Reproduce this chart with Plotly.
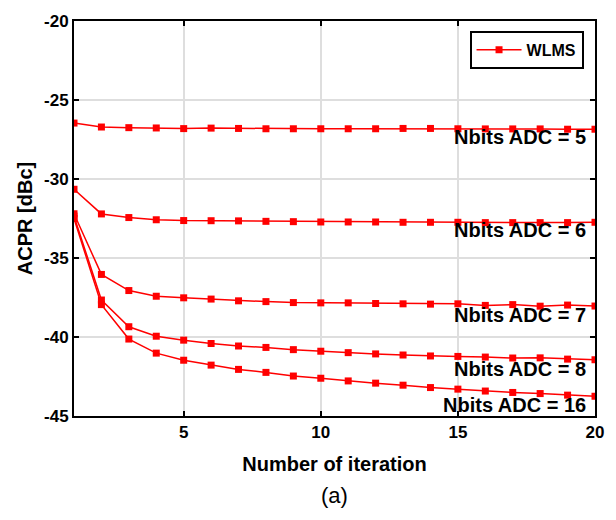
import plotly.graph_objects as go

iterations = list(range(1, 21))
acpr_5 = [-26.46, -26.71, -26.75, -26.77, -26.81, -26.78, -26.80, -26.82, -26.82, -26.82,
          -26.82, -26.82, -26.80, -26.80, -26.82, -26.83, -26.83, -26.83, -26.85, -26.85]
acpr_6 = [-30.65, -32.21, -32.44, -32.58, -32.63, -32.64, -32.65, -32.68, -32.70, -32.72,
          -32.72, -32.72, -32.74, -32.74, -32.74, -32.76, -32.76, -32.76, -32.76, -32.74]
acpr_7 = [-32.20, -36.04, -37.06, -37.42, -37.52, -37.60, -37.71, -37.76, -37.82, -37.84,
          -37.84, -37.88, -37.90, -37.92, -37.90, -38.00, -37.95, -38.05, -37.98, -38.04]
acpr_8 = [-32.35, -37.66, -39.35, -39.95, -40.20, -40.41, -40.57, -40.66, -40.80, -40.90,
          -40.99, -41.07, -41.14, -41.20, -41.23, -41.27, -41.33, -41.32, -41.40, -41.44]
acpr_16 = [-32.50, -37.95, -40.13, -41.02, -41.47, -41.78, -42.05, -42.24, -42.47, -42.61,
           -42.78, -42.92, -43.05, -43.20, -43.30, -43.42, -43.51, -43.58, -43.68, -43.75]
series = [acpr_5, acpr_6, acpr_7, acpr_8, acpr_16]
labels = ["Nbits ADC = 5", "Nbits ADC = 6", "Nbits ADC = 7", "Nbits ADC = 8", "Nbits ADC = 16"]
label_y = [-27.34, -33.20, -38.58, -42.01, -44.28]
x_ticks = [5, 10, 15, 20]
y_ticks = [-45, -40, -35, -30, -25, -20]

FONT = "Liberation Sans, Arial, sans-serif"
fig = go.Figure()
for i, s in enumerate(series):
    fig.add_trace(go.Scatter(
        x=iterations, y=s, mode="lines+markers", name="<b>WLMS</b>",
        showlegend=(i == 0),
        line=dict(color="#ff0000", width=1.5),
        marker=dict(symbol="square", size=7, color="#ff0000"),
    ))

for lab, ly in zip(labels, label_y):
    fig.add_annotation(x=20, y=ly, xref="x", yref="y", text="<b>%s</b>" % lab,
                       showarrow=False, xanchor="right", yanchor="middle", xshift=-7,
                       font=dict(family=FONT, size=20, color="black"))

fig.add_annotation(x=0.5, y=-0.165, xref="paper", yref="paper", text="(a)",
                   showarrow=False, xanchor="center", yanchor="top",
                   font=dict(family=FONT, size=22, color="black"))

axis_common = dict(showline=True, linecolor="black", linewidth=2, mirror="ticks",
                   ticks="inside", ticklen=5, tickwidth=2, tickcolor="black",
                   showgrid=True, gridcolor="#dedede", gridwidth=1.5, zeroline=False,
                   tickfont=dict(family=FONT, size=17, color="black"))

fig.update_layout(
    width=616, height=520,
    margin=dict(l=74, r=16, t=16, b=104),
    paper_bgcolor="white", plot_bgcolor="white",
    font=dict(family=FONT, color="black"),
    showlegend=True,
    legend=dict(x=0.978, y=0.975, xanchor="right", yanchor="top",
                bgcolor="white", bordercolor="black", borderwidth=2,
                itemwidth=45, tracegroupgap=0,
                font=dict(family=FONT, size=16, color="black")),
    xaxis=dict(range=[1, 20], tickvals=x_ticks,
               ticktext=["<b>%d</b>" % v for v in x_ticks],
               title=dict(text="<b>Number of iteration</b>", standoff=16,
                          font=dict(family=FONT, size=20, color="black")),
               **axis_common),
    yaxis=dict(range=[-45, -20], tickvals=y_ticks,
               ticktext=["<b>%d</b>" % v for v in y_ticks],
               title=dict(text="<b>ACPR [dBc]</b>", standoff=6,
                          font=dict(family=FONT, size=20, color="black")),
               **axis_common),
)
fig.write_html("out.html")
